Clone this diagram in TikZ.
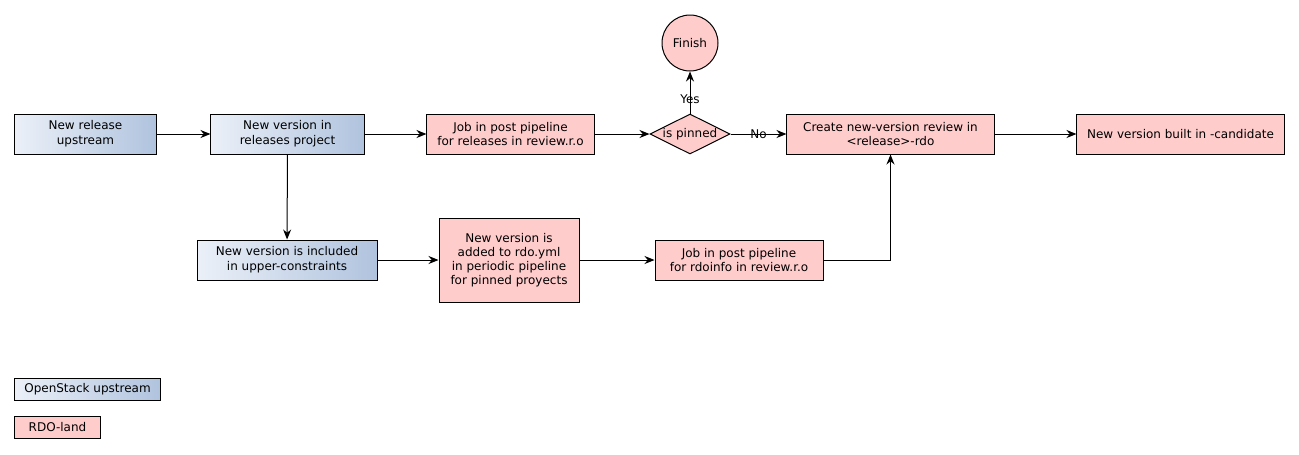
\documentclass[tikz,border=0pt]{standalone}
\usepackage{fontspec}
\setmainfont{DejaVu Sans}
\usetikzlibrary{arrows.meta,shapes.geometric}

\definecolor{rdopink}{HTML}{FFCCCC}
\definecolor{upleft}{HTML}{EBF0F8}
\definecolor{upright}{HTML}{B0C3DE}

\tikzset{
	upstream/.style={draw, line width=0.75pt, left color=upleft, right color=upright, minimum height=30pt, inner sep=0pt, align=center},
	rdoland/.style={draw, line width=0.75pt, fill=rdopink, minimum height=30pt, inner sep=0pt, align=center},
	pinned/.style={draw, line width=0.75pt, fill=rdopink, shape=diamond, minimum width=60pt, minimum height=30pt, inner sep=0pt},
	finish/.style={draw, line width=0.75pt, fill=rdopink, shape=circle, minimum size=42pt, inner sep=0pt},
	flow/.style={-{Stealth[length=7.5pt,width=6pt]}, line width=0.75pt}
}

\begin{document}
\begin{tikzpicture}[x=0.75pt, y=-0.75pt, font=\fontsize{9}{11}\selectfont]
	\useasboundingbox (0,0) rectangle (1299,454);

	\node[upstream, minimum width=105.8pt] (release) at (85.5,134) {New release\\upstream};
	\node[upstream, minimum width=114.8pt] (releases) at (287.5,134) {New version in\\releases project};
	\node[rdoland, minimum width=125.3pt] (postjob) at (510.5,134) {Job in post pipeline\\for releases in review.r.o};
	\node[pinned] (ispinned) at (690,134) {\makebox[0pt]{is pinned}};
	\node[finish] (finish) at (690,43) {Finish};
	\node[rdoland, minimum width=155.3pt] (review) at (890.5,134) {Create new-version review in\\<release>-rdo};
	\node[rdoland, minimum width=155.3pt] (candidate) at (1180.5,134) {New version built in -candidate};
	\node[upstream, minimum width=135pt] (constraints) at (287,260) {New version is included\\in upper-constraints};
	\node[rdoland, minimum width=105pt, minimum height=63pt, font=\fontsize{9}{10.5}\selectfont] (periodic) at (509,260) {New version is\\added to rdo.yml\\in periodic pipeline\\for pinned proyects};
	\node[rdoland, minimum width=126pt] (rdoinfo) at (739,260) {Job in post pipeline\\for rdoinfo in review.r.o};

	\node[upstream, minimum width=108.8pt, minimum height=15.8pt] (legup) at (87.5,389.5) {OpenStack upstream};
	\node[rdoland, minimum width=63.8pt, minimum height=15.8pt] (legrdo) at (57.5,427.5) {RDO-land};

	\path [flow] (release) edge (releases);
	\path [flow] (releases) edge (postjob);
	\path [flow] (postjob) edge (ispinned);
	\path [flow] (ispinned) edge node {No} (review);
	\path [flow] (ispinned) edge node[pos=0.35] {Yes} (finish);
	\path [flow] (review) edge (candidate);
	\path [flow] (releases) edge (constraints);
	\path [flow] (constraints) edge (periodic);
	\path [flow] (periodic) edge (rdoinfo);
	\draw [flow] (rdoinfo.east) -| (review.south);
\end{tikzpicture}
\end{document}
